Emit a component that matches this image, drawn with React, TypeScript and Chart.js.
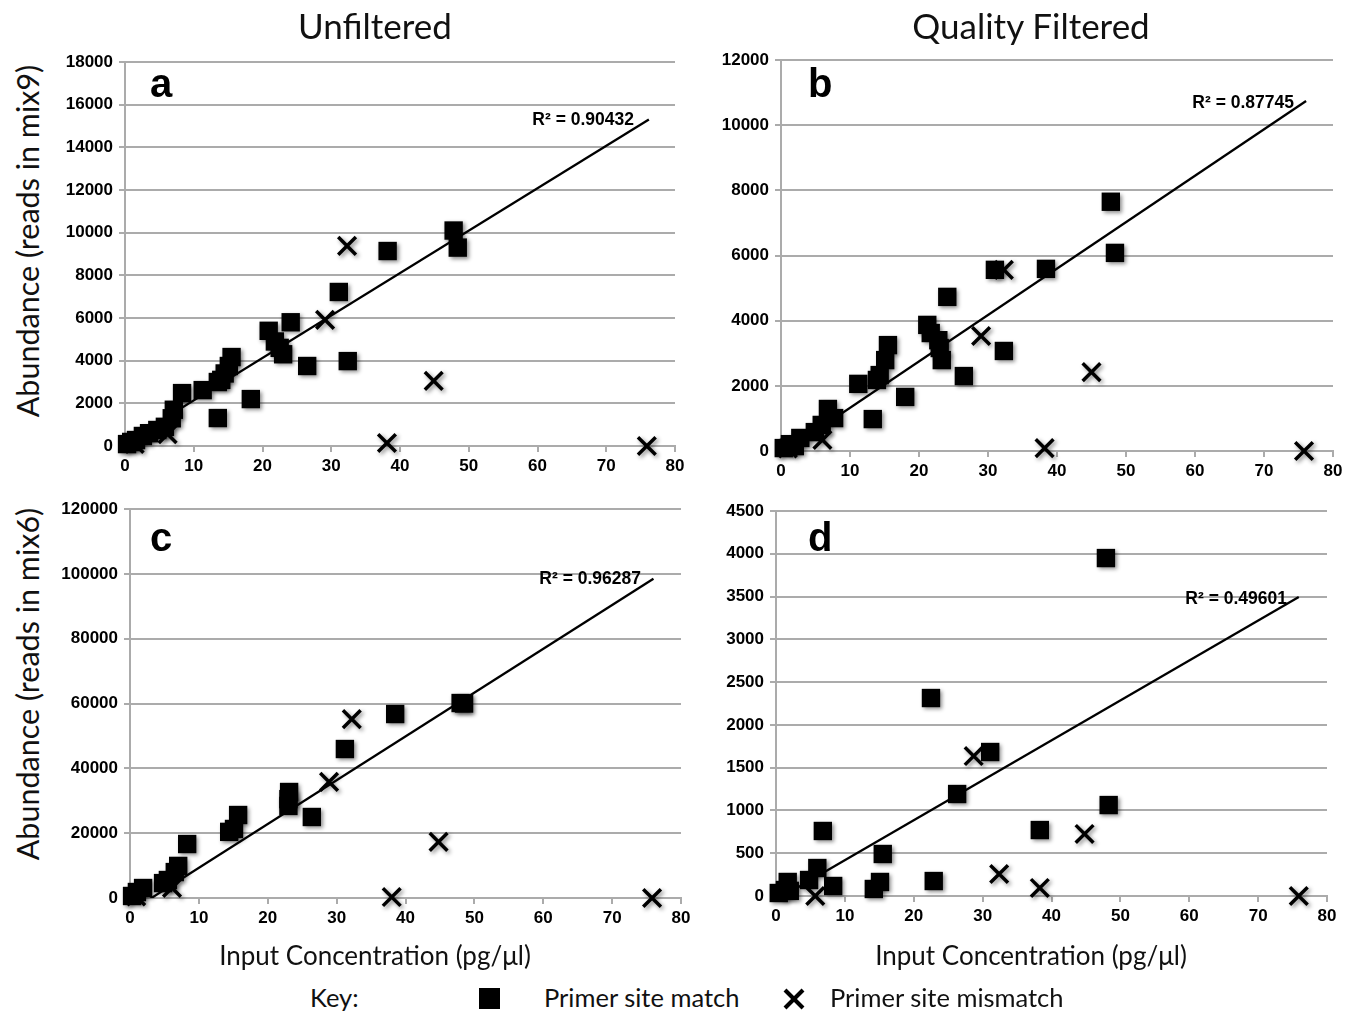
import React, { useEffect, useRef } from "react";
import { Chart, registerables } from "chart.js";

Chart.register(...registerables);

// ---------- Data ----------
const xTickStep = 10;
const xMax = 80;

// Panel a: Unfiltered, reads in mix9
const aMatchX = [0.3, 0.9, 1.6, 2.6, 3.5, 4.7, 5.8, 6.8, 7.1, 8.3, 11.3, 13.5, 13.5, 14.0, 14.5, 15.1, 15.5, 18.3, 20.9, 21.8, 22.5, 23.0, 24.1, 26.5, 31.1, 32.4, 38.2, 47.8, 48.4];
const aMatchY = [90, 190, 280, 470, 600, 750, 900, 1300, 1700, 2480, 2620, 1310, 3000, 3100, 3400, 3750, 4170, 2200, 5400, 4900, 4600, 4300, 5800, 3750, 7220, 3980, 9140, 10100, 9300];
const aMismatchX = [1.4, 6.2, 29.1, 32.3, 38.1, 44.9, 75.9];
const aMismatchY = [100, 560, 5910, 9380, 140, 3050, 0];
const aTrendX = [0, 76.2];
const aTrendY = [150, 15300];

// Panel b: Quality filtered, reads in mix9
const bMatchX = [0.4, 1.3, 2.0, 2.8, 4.9, 5.9, 6.8, 7.7, 11.2, 13.3, 13.9, 14.3, 15.1, 15.5, 18.0, 21.2, 21.7, 22.8, 23.0, 23.3, 24.1, 26.5, 31.0, 32.3, 38.4, 47.8, 48.4];
const bMatchY = [90, 210, 150, 400, 580, 800, 1290, 1010, 2060, 980, 2180, 2330, 2790, 3250, 1660, 3870, 3620, 3400, 3160, 2790, 4730, 2300, 5560, 3070, 5590, 7650, 6080];
const bMismatchX = [1.0, 6.0, 29.0, 32.3, 38.2, 45.0, 75.8];
const bMismatchY = [80, 340, 3530, 5560, 90, 2420, 0];
const bTrendX = [0, 76.1];
const bTrendY = [-100, 10740];

// Panel c: Unfiltered, reads in mix6
const cMatchX = [0.3, 1.0, 1.9, 4.8, 5.5, 6.5, 7.0, 8.3, 14.4, 15.1, 15.7, 23.0, 23.0, 23.1, 26.4, 31.2, 38.5, 48.0, 48.5];
const cMatchY = [620, 1850, 3080, 4600, 5550, 8000, 9900, 16650, 20400, 21300, 25600, 28400, 30500, 32700, 24990, 45960, 56750, 60150, 60000];
const cMismatchX = [0.9, 6.1, 28.9, 32.2, 38.0, 44.8, 75.8];
const cMismatchY = [500, 3100, 35800, 55200, 300, 17300, 0];
const cTrendX = [0, 76];
const cTrendY = [-4200, 98500];

// Panel d: Quality filtered, reads in mix6
const dMatchX = [0.4, 1.3, 1.7, 2.0, 4.8, 6.0, 6.8, 8.3, 14.2, 15.1, 15.5, 22.5, 22.9, 26.3, 31.1, 38.3, 47.9, 48.3];
const dMatchY = [35, 70, 164, 60, 187, 327, 760, 117, 82, 164, 491, 2314, 175, 1192, 1683, 771, 3950, 1063];
const dMismatchX = [5.7, 28.7, 32.4, 38.3, 44.8, 75.9];
const dMismatchY = [0, 1636, 257, 94, 725, 0];
const dTrendX = [0, 75.9];
const dTrendY = [-48, 3495];

const panelLetters = ["a", "b", "c", "d"];
const r2Labels = ["R² = 0.90432", "R² = 0.87745", "R² = 0.96287", "R² = 0.49601"];
const yMaxes = [18000, 12000, 120000, 4500];
const ySteps = [2000, 2000, 20000, 500];
const columnTitles = ["Unfiltered", "Quality Filtered"];
const xAxisTitle = "Input Concentration (pg/μl)";
const yAxisTitles = ["Abundance (reads  in mix9)", "Abundance (reads in mix6)"];
const keyLabel = "Key:";
const matchLabel = "Primer site match";
const mismatchLabel = "Primer site mismatch";

// ---------- Layout ----------
const Y_W = 70;
const X_H = 44;
const PAD_T = 22;
const PAD_R = 22;
const TICK_FONT = "'Liberation Sans', Arial, sans-serif";
const TEXT_FONT = "Lato, 'Open Sans', sans-serif";
const GRID = "#ababab";

type Rect = { l: number; t: number; r: number; b: number };

const panelRects: Rect[] = [
  { l: 125, t: 62, r: 675, b: 446 },
  { l: 781, t: 60, r: 1333, b: 451 },
  { l: 130, t: 509, r: 681, b: 898 },
  { l: 776, t: 511, r: 1327, b: 896 },
];

const shadowPlugin = {
  id: "markShadow",
  beforeDatasetDraw(chart: any, args: any) {
    if (args.index === 0) return;
    const ctx = chart.ctx;
    ctx.save();
    ctx.shadowColor = "rgba(0,0,0,0.45)";
    ctx.shadowBlur = 4;
    ctx.shadowOffsetX = 2;
    ctx.shadowOffsetY = 2;
  },
  afterDatasetDraw(chart: any, args: any) {
    if (args.index === 0) return;
    chart.ctx.restore();
  },
};

function toPts(xs: number[], ys: number[]) {
  return xs.map((x, i) => ({ x, y: ys[i] }));
}

type PanelProps = {
  rect: Rect;
  yMax: number;
  yStep: number;
  matchX: number[];
  matchY: number[];
  mismatchX: number[];
  mismatchY: number[];
  trendX: number[];
  trendY: number[];
};

function Panel(p: PanelProps) {
  const ref = useRef<HTMLCanvasElement | null>(null);
  const w = p.rect.r - p.rect.l + Y_W + PAD_R;
  const h = p.rect.b - p.rect.t + PAD_T + X_H;
  useEffect(() => {
    if (!ref.current) return;
    const chart = new Chart(ref.current, {
      type: "scatter",
      data: {
        datasets: [
          {
            data: toPts(p.trendX, p.trendY),
            showLine: true,
            pointRadius: 0,
            borderColor: "#000",
            borderWidth: 2.3,
            fill: false,
          } as any,
          {
            data: toPts(p.mismatchX, p.mismatchY),
            pointStyle: "crossRot",
            pointRadius: 12.5,
            borderColor: "#000",
            backgroundColor: "#000",
            borderWidth: 3.5,
            clip: false,
          } as any,
          {
            data: toPts(p.matchX, p.matchY),
            pointStyle: "rect",
            pointRadius: 13,
            borderColor: "#000",
            backgroundColor: "#000",
            borderWidth: 0,
            clip: false,
          } as any,
        ],
      },
      options: {
        responsive: false,
        animation: false,
        layout: { padding: { top: PAD_T, right: PAD_R, left: 0, bottom: 0 } },
        plugins: { legend: { display: false }, tooltip: { enabled: false } },
        scales: {
          x: {
            type: "linear",
            min: 0,
            max: xMax,
            afterFit: (s: any) => {
              s.height = X_H;
            },
            ticks: {
              stepSize: xTickStep,
              color: "#000",
              padding: 4,
              font: { family: TICK_FONT, size: 17, weight: "bold" },
            },
            grid: { drawOnChartArea: false, drawTicks: true, tickLength: 6, color: GRID, lineWidth: 2 },
            border: { color: GRID, width: 2 },
          },
          y: {
            type: "linear",
            min: 0,
            max: p.yMax,
            afterFit: (s: any) => {
              s.width = Y_W;
            },
            ticks: {
              stepSize: p.yStep,
              color: "#000",
              padding: 6,
              font: { family: TICK_FONT, size: 17, weight: "bold" },
              callback: (v: any) => String(v),
            },
            grid: { color: GRID, lineWidth: 2, tickLength: 6 },
            border: { color: GRID, width: 2 },
          },
        },
      } as any,
      plugins: [shadowPlugin],
    });
    return () => chart.destroy();
  }, []);
  return (
    <div
      style={{
        position: "absolute",
        left: p.rect.l - Y_W,
        top: p.rect.t - PAD_T,
        width: w,
        height: h,
      }}
    >
      <canvas ref={ref} width={w} height={h} style={{ width: w, height: h, display: "block" }} />
    </div>
  );
}

const abs = (extra: React.CSSProperties): React.CSSProperties => ({
  position: "absolute",
  whiteSpace: "nowrap",
  lineHeight: 1,
  ...extra,
});

export default function App() {
  const data = [
    [aMatchX, aMatchY, aMismatchX, aMismatchY, aTrendX, aTrendY],
    [bMatchX, bMatchY, bMismatchX, bMismatchY, bTrendX, bTrendY],
    [cMatchX, cMatchY, cMismatchX, cMismatchY, cTrendX, cTrendY],
    [dMatchX, dMatchY, dMismatchX, dMismatchY, dTrendX, dTrendY],
  ];
  const letterPos = [
    [150, 93],
    [808, 93],
    [150, 547],
    [808, 547],
  ];
  const r2Pos = [
    [634, 120],
    [1294, 103],
    [641, 579],
    [1287, 599],
  ];
  return (
    <div
      style={{
        position: "absolute",
        left: 0,
        top: 0,
        width: 1356,
        height: 1013,
        background: "#fff",
        overflow: "hidden",
      }}
    >
      {panelRects.map((rect, i) => (
        <Panel
          key={i}
          rect={rect}
          yMax={yMaxes[i]}
          yStep={ySteps[i]}
          matchX={data[i][0]}
          matchY={data[i][1]}
          mismatchX={data[i][2]}
          mismatchY={data[i][3]}
          trendX={data[i][4]}
          trendY={data[i][5]}
        />
      ))}

      {panelLetters.map((t, i) => (
        <div
          key={"l" + i}
          style={abs({
            left: letterPos[i][0],
            top: letterPos[i][1] - 30,
            fontFamily: TICK_FONT,
            fontWeight: "bold",
            fontSize: 40,
            color: "#000",
          })}
        >
          {t}
        </div>
      ))}

      {r2Labels.map((t, i) => (
        <div
          key={"r" + i}
          style={abs({
            left: r2Pos[i][0],
            top: r2Pos[i][1],
            transform: "translate(-100%, -50%)",
            fontFamily: TICK_FONT,
            fontWeight: "bold",
            fontSize: 17.5,
            color: "#000",
          })}
        >
          {t}
        </div>
      ))}

      {columnTitles.map((t, i) => (
        <div
          key={"c" + i}
          style={abs({
            left: i === 0 ? 375 : 1031,
            top: 25,
            transform: "translate(-50%, -50%)",
            fontFamily: TEXT_FONT,
            fontSize: 35,
            color: "#111",
          })}
        >
          {t}
        </div>
      ))}

      {[375, 1031].map((x, i) => (
        <div
          key={"x" + i}
          style={abs({
            left: x,
            top: 955,
            transform: "translate(-50%, -50%)",
            fontFamily: TEXT_FONT,
            fontSize: 26,
            color: "#111",
          })}
        >
          {xAxisTitle}
        </div>
      ))}

      {yAxisTitles.map((t, i) => (
        <div
          key={"y" + i}
          style={abs({
            left: 27,
            top: i === 0 ? 241 : 684,
            transform: "translate(-50%, -50%) rotate(-90deg)",
            fontFamily: TEXT_FONT,
            fontSize: 30.5,
            color: "#111",
          })}
        >
          {t}
        </div>
      ))}

      <div style={abs({ left: 310, top: 998, transform: "translateY(-50%)", fontFamily: TEXT_FONT, fontSize: 25.5, color: "#111" })}>
        {keyLabel}
      </div>
      <div style={{ position: "absolute", left: 479, top: 988, width: 21, height: 21, background: "#000" }} />
      <div style={abs({ left: 544, top: 998, transform: "translateY(-50%)", fontFamily: TEXT_FONT, fontSize: 25.5, color: "#111" })}>
        {matchLabel}
      </div>
      <svg style={{ position: "absolute", left: 783, top: 988 }} width={22} height={22}>
        <line x1={2} y1={2} x2={20} y2={20} stroke="#000" strokeWidth={4} />
        <line x1={20} y1={2} x2={2} y2={20} stroke="#000" strokeWidth={4} />
      </svg>
      <div style={abs({ left: 830, top: 998, transform: "translateY(-50%)", fontFamily: TEXT_FONT, fontSize: 25.5, color: "#111" })}>
        {mismatchLabel}
      </div>
    </div>
  );
}
